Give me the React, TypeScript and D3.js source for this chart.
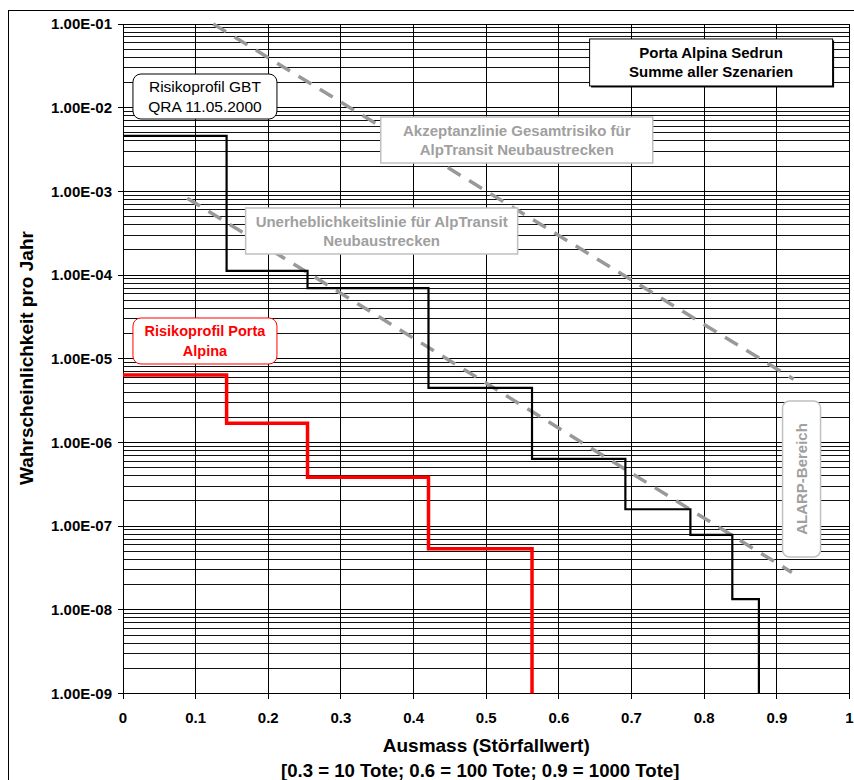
import * as d3 from 'd3';

// Ausmass (Störfallwert) break points of the step profiles
const stepX = [0, 0.1426, 0.254, 0.4205, 0.563, 0.6915, 0.781, 0.8387, 0.8753];
// Risikoprofil GBT, QRA 11.05.2000 (frequency per year per step)
const gbtFreq = [4.6e-3, 1.12e-4, 7.0e-5, 4.48e-6, 6.35e-7, 1.59e-7, 7.85e-8, 1.34e-8];
// Risikoprofil Porta Alpina
const portaX = [0, 0.1426, 0.254, 0.4205, 0.563];
const portaFreq = [6.4e-6, 1.69e-6, 3.84e-7, 5.35e-8];

// criteria lines (end points)
const akzeptanzLine = [{ x: 0.1242, p: 1e-1 }, { x: 0.923, p: 5.7e-6 }];
const unerheblichLine = [{ x: 0.0884, p: 8.3e-4 }, { x: 0.9206, p: 2.8e-8 }];

const xTicks = [0, 0.1, 0.2, 0.3, 0.4, 0.5, 0.6, 0.7, 0.8, 0.9, 1];
const xTickLabels = ['0', '0.1', '0.2', '0.3', '0.4', '0.5', '0.6', '0.7', '0.8', '0.9', '1'];
const yTicks = [1e-1, 1e-2, 1e-3, 1e-4, 1e-5, 1e-6, 1e-7, 1e-8, 1e-9];
const yTickLabels = ['1.00E-01', '1.00E-02', '1.00E-03', '1.00E-04', '1.00E-05', '1.00E-06', '1.00E-07', '1.00E-08', '1.00E-09'];

const FONT = '"Liberation Sans", Arial, sans-serif';
const W = 854;
const H = 780;
const margin = { top: 24, right: 4, bottom: 86.5, left: 123 };

interface Note {
  lines: string[];
  x: number;
  p: number;
  w: number;
  h: number;
  kind: 'gbt' | 'title' | 'grey' | 'red';
}

const notes: Note[] = [
  { lines: ['Risikoprofil GBT', 'QRA 11.05.2000'], x: 0.1128, p: 1.36e-2, w: 144, h: 45, kind: 'gbt' },
  { lines: ['Porta Alpina Sedrun', 'Summe aller Szenarien'], x: 0.8095, p: 3.47e-2, w: 243, h: 47, kind: 'title' },
  { lines: ['Akzeptanzlinie Gesamtrisiko für', 'AlpTransit Neubaustrecken'], x: 0.542, p: 4.11e-3, w: 272, h: 46, kind: 'grey' },
  { lines: ['Unerheblichkeitslinie für AlpTransit', 'Neubaustrecken'], x: 0.356, p: 3.36e-4, w: 272, h: 46, kind: 'grey' },
  { lines: ['Risikoprofil Porta', 'Alpina'], x: 0.1128, p: 1.63e-5, w: 144, h: 46, kind: 'red' },
];

export default function App() {
  const x = d3.scaleLinear().domain([0, 1]).range([margin.left, W - margin.right - 0.5]);
  const y = d3.scaleLog().domain([1e-9, 1e-1]).range([H - margin.bottom, margin.top]);

  const minors: number[] = [];
  for (let e = -9; e < -1; e++) {
    for (let k = 2; k <= 9; k++) minors.push(k * Math.pow(10, e));
  }

  const stepLine = d3.line<[number, number]>()
    .x(d => x(d[0]))
    .y(d => y(d[1]))
    .curve(d3.curveStepAfter);

  const gbtPts: [number, number][] = gbtFreq.map((f, i) => [stepX[i], f]);
  gbtPts.push([stepX[stepX.length - 1], gbtFreq[gbtFreq.length - 1]]);
  gbtPts.push([stepX[stepX.length - 1], 1e-9]);

  const portaPts: [number, number][] = portaFreq.map((f, i) => [portaX[i], f]);
  portaPts.push([portaX[portaX.length - 1], portaFreq[portaFreq.length - 1]]);
  portaPts.push([portaX[portaX.length - 1], 1e-9]);

  const straight = d3.line<{ x: number; p: number }>().x(d => x(d.x)).y(d => y(d.p));

  const x0 = x(0);
  const x1 = x(1);
  const yTop = y(1e-1);
  const yBot = y(1e-9);

  const noteStyle = (kind: Note['kind']) => {
    if (kind === 'gbt') return { stroke: '#000', fill: '#000', weight: 'normal', rx: 8, size: 15.5 };
    if (kind === 'title') return { stroke: '#000', fill: '#000', weight: 'bold', rx: 0, size: 15 };
    if (kind === 'red') return { stroke: '#ff0000', fill: '#ff0000', weight: 'bold', rx: 8, size: 14.5 };
    return { stroke: '#c0c0c0', fill: '#a0a0a0', weight: 'bold', rx: 0, size: 15 };
  };

  return (
    <svg width={W} height={H} style={{ position: 'absolute', left: 0, top: 0, background: '#fff' }} fontFamily={FONT}>
      <rect x={8.5} y={10.5} width={W} height={H} fill="#fff" stroke="#000" strokeWidth={1} />

      {/* grid */}
      <g shapeRendering="crispEdges">
        {minors.map((v, i) => (
          <line key={'mn' + i} x1={x0} x2={x1} y1={y(v)} y2={y(v)} stroke="#111" strokeWidth={1} />
        ))}
        {yTicks.map((v, i) => (
          <line key={'mj' + i} x1={x0 - 5} x2={x1} y1={y(v)} y2={y(v)} stroke="#000" strokeWidth={1} />
        ))}
        {xTicks.map((v, i) => (
          <line key={'vx' + i} x1={x(v)} x2={x(v)} y1={yTop} y2={yBot + 5} stroke="#000" strokeWidth={1} />
        ))}
        <rect x={x0} y={yTop} width={x1 - x0} height={yBot - yTop} fill="none" stroke="#000" strokeWidth={1} />
      </g>

      {/* criteria lines */}
      <path d={straight(akzeptanzLine) || ''} fill="none" stroke="#999" strokeWidth={3.5} strokeDasharray="15,10" />
      <path d={straight(unerheblichLine) || ''} fill="none" stroke="#999" strokeWidth={3.5} strokeDasharray="15,10" />

      {/* risk profiles */}
      <path d={stepLine(gbtPts) || ''} fill="none" stroke="#000" strokeWidth={2.2} strokeLinejoin="miter" />
      <path d={stepLine(portaPts) || ''} fill="none" stroke="#ff0000" strokeWidth={3.5} strokeLinejoin="miter" />

      {/* annotations */}
      {notes.map((n, i) => {
        const s = noteStyle(n.kind);
        const cx = x(n.x);
        const cy = y(n.p);
        return (
          <g key={'n' + i}>
            {n.kind === 'title' && (
              <rect x={cx - n.w / 2 + 1.5} y={cy - n.h / 2 + 1.5} width={n.w} height={n.h} fill="#000" />
            )}
            <rect x={cx - n.w / 2} y={cy - n.h / 2} width={n.w} height={n.h} rx={s.rx} fill="#fff" stroke={s.stroke} strokeWidth={n.kind === 'grey' ? 1.5 : 1} />
            {n.lines.map((t, j) => (
              <text key={j} x={cx} y={cy + (j - (n.lines.length - 1) / 2) * 19.5} dy="0.35em" textAnchor="middle"
                fontSize={s.size} fontWeight={s.weight} fill={s.fill}>{t}</text>
            ))}
          </g>
        );
      })}

      {/* ALARP-Bereich */}
      <g transform={`translate(${x(0.934)},${y(3.66e-7)})`}>
        <rect x={-19} y={-78} width={38} height={156} rx={7} fill="#fff" stroke="#c0c0c0" strokeWidth={1.5} />
        <text transform="rotate(-90)" textAnchor="middle" dy="0.35em" fontSize={15} fontWeight="bold" fill="#a0a0a0">ALARP-Bereich</text>
      </g>

      {/* tick labels */}
      {yTicks.map((v, i) => (
        <text key={'yl' + i} x={x0 - 11} y={y(v)} dy="0.35em" textAnchor="end" fontSize={15} fontWeight="bold">{yTickLabels[i]}</text>
      ))}
      {xTicks.map((v, i) => (
        <text key={'xl' + i} x={x(v)} y={yBot + 24} dy="0.35em" textAnchor="middle" fontSize={15} fontWeight="bold">{xTickLabels[i]}</text>
      ))}

      {/* axis titles */}
      <text x={(x0 + x1) / 2} y={745} dy="0.35em" textAnchor="middle" fontSize={19} fontWeight="bold">Ausmass (Störfallwert)</text>
      <text x={(x0 + x1) / 2 - 6} y={770} dy="0.35em" textAnchor="middle" fontSize={18.6} fontWeight="bold">[0.3 = 10 Tote; 0.6 = 100 Tote; 0.9 = 1000 Tote]</text>
      <text transform={`translate(26,${358}) rotate(-90)`} dy="0.35em" textAnchor="middle" fontSize={19} fontWeight="bold">Wahrscheinlichkeit pro Jahr</text>
    </svg>
  );
}
